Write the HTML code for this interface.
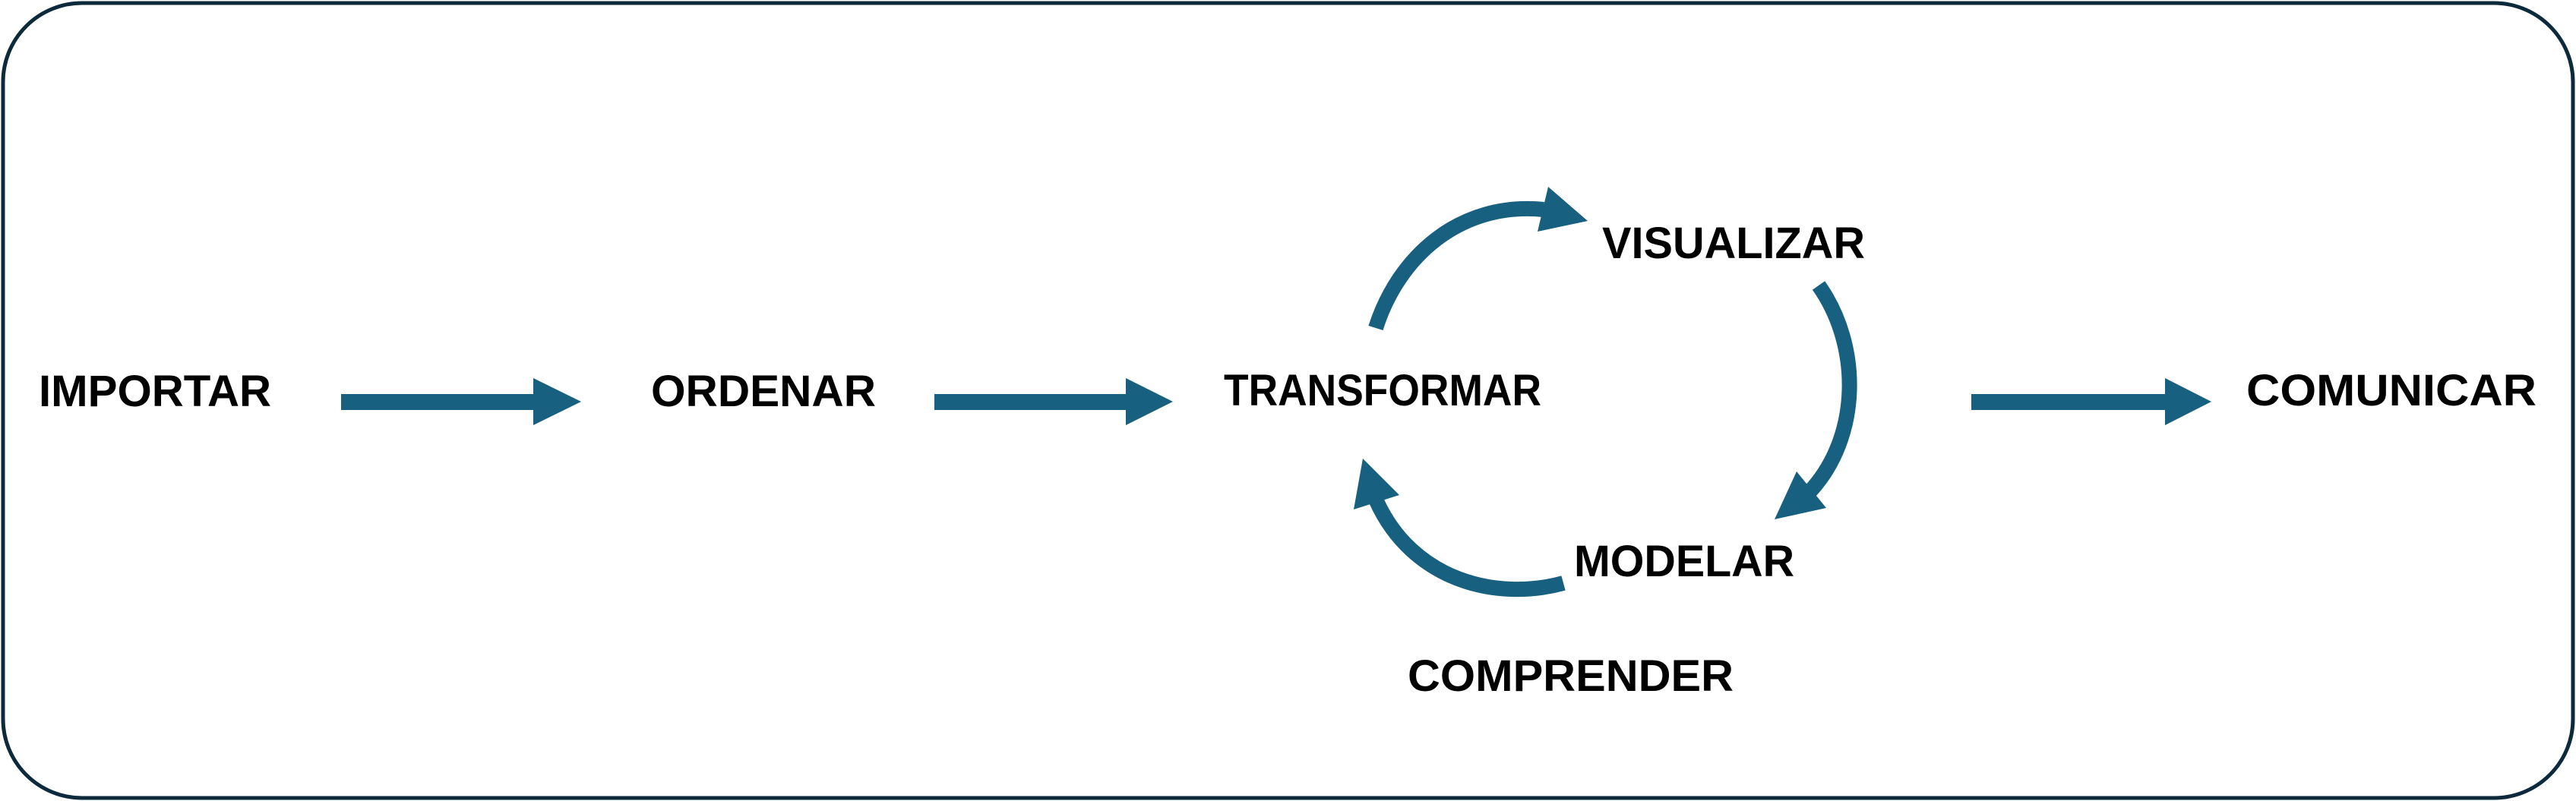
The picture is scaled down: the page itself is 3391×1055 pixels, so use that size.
<!DOCTYPE html>
<html><head><meta charset="utf-8"><style>
html,body{margin:0;padding:0;background:#fff;}
svg{display:block;}
text{font-family:"Liberation Sans",sans-serif;font-weight:bold;font-size:58px;fill:#000;}
</style></head><body>
<svg width="3391" height="1055" viewBox="0 0 3391 1055" xmlns="http://www.w3.org/2000/svg">
<rect x="4" y="4" width="3383" height="1047" rx="104" ry="104" fill="#fff" stroke="#0d2a3c" stroke-width="5"/>
<g fill="#17607f">
<polygon points="449,519 702,519 702,498 765,529 702,560 702,540 449,540"/>
<polygon points="1230,519 1482,519 1482,498 1544,529 1482,560 1482,540 1230,540"/>
<polygon points="2595,519 2850,519 2850,498 2911,529 2850,560 2850,540 2595,540"/>
<polygon points="2090,291 2038,246 2024,305"/>
<polygon points="2336,684 2365,621 2404,669"/>
<polygon points="1794,604 1782,671 1842,652"/>
</g>
<g fill="none" stroke="#17607f" stroke-width="20">
<path d="M1811 432 C1840 340 1920 265 2032 276"/>
<path d="M2394 376 C2450 455 2450 575 2382 648"/>
<path d="M2058 768 C1970 792 1860 765 1812 660"/>
</g>
<text x="51" y="535" textLength="306" lengthAdjust="spacingAndGlyphs">IMPORTAR</text>
<text x="857" y="535" textLength="296" lengthAdjust="spacingAndGlyphs">ORDENAR</text>
<text x="1611" y="534" textLength="418" lengthAdjust="spacingAndGlyphs">TRANSFORMAR</text>
<text x="2109" y="340" textLength="346" lengthAdjust="spacingAndGlyphs">VISUALIZAR</text>
<text x="2072" y="759" textLength="290" lengthAdjust="spacingAndGlyphs">MODELAR</text>
<text x="1853" y="910" textLength="429" lengthAdjust="spacingAndGlyphs">COMPRENDER</text>
<text x="2957" y="534" textLength="382" lengthAdjust="spacingAndGlyphs">COMUNICAR</text>
</svg>
</body></html>
